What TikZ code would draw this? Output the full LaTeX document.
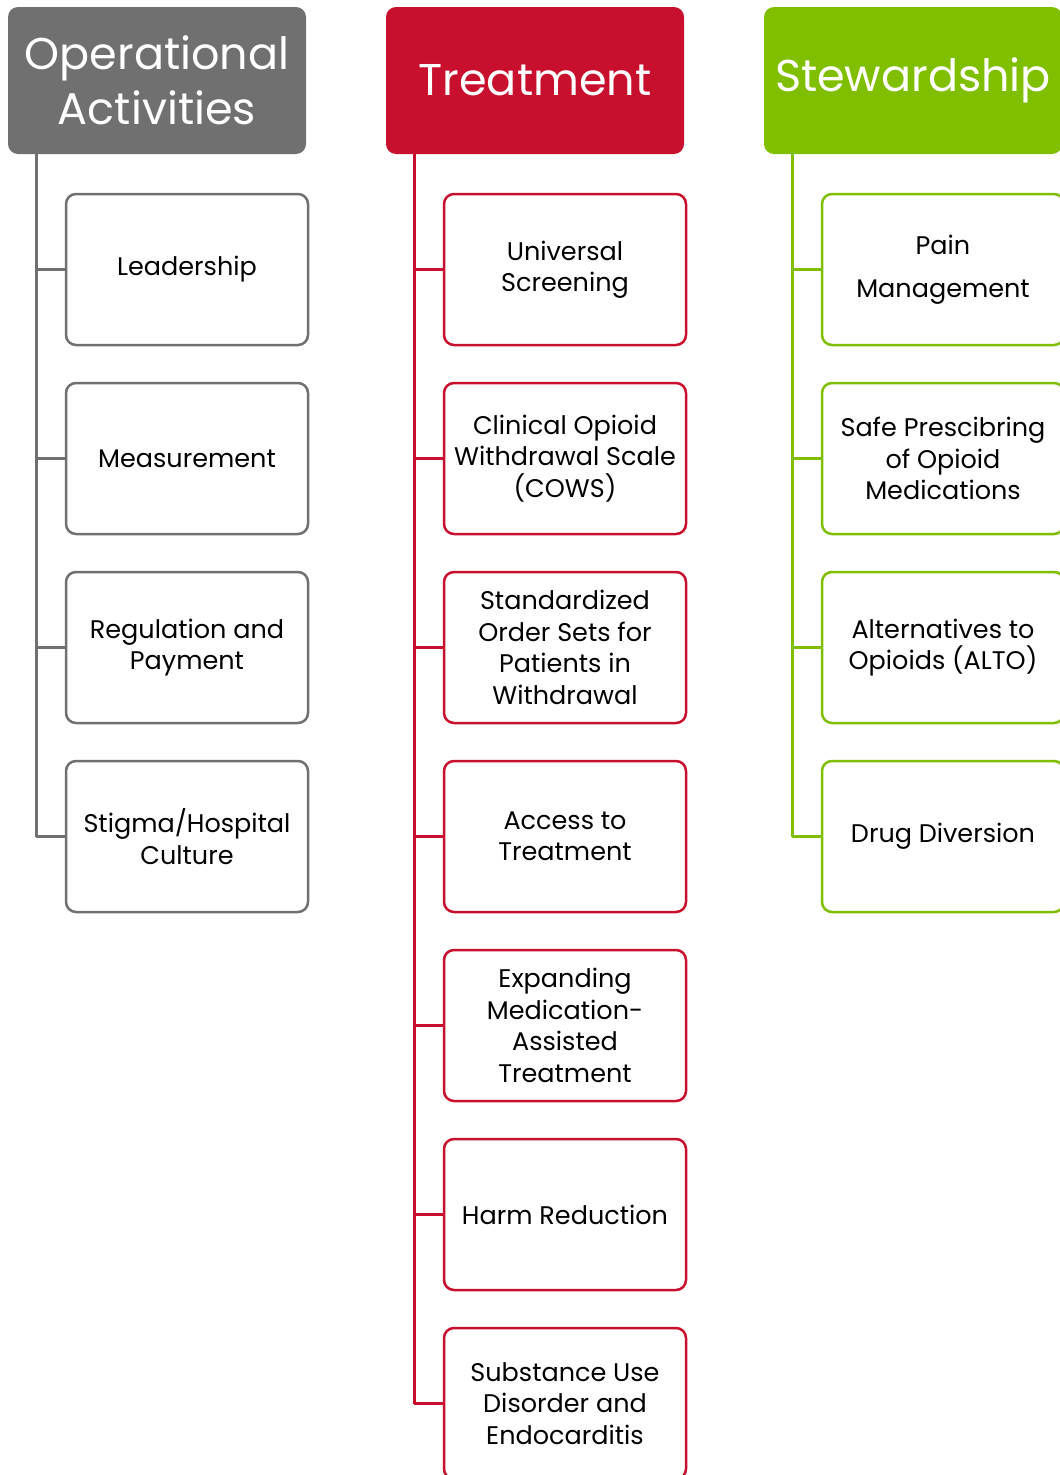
\documentclass[tikz,border=0pt]{standalone}
\usepackage{fontspec}
\setmainfont{Poppins}
\definecolor{opgray}{HTML}{6F706F}
\definecolor{trred}{HTML}{C8102E}
\definecolor{stgreen}{HTML}{80BF00}
\begin{document}
\begin{tikzpicture}[x=1pt, y=-1pt]
% Stili per intestazioni, caselle e linee di collegamento
\tikzset{
  header/.style={rounded corners=10pt, fill=#1, text=white, inner sep=0pt,
    minimum width=298pt, minimum height=147pt, align=center,
    font=\fontsize{44.5}{55}\selectfont},
  item/.style={draw=#1, line width=2.5pt, rounded corners=10pt, fill=white,
    inner sep=0pt, minimum width=242pt, minimum height=151pt, align=center,
    font=\fontsize{25.5}{31.5}\selectfont},
  trunk/.style={draw=#1, line width=3pt}
}

% Area della pagina
\useasboundingbox (0,0) rectangle (1060,1475);

% --- INTESTAZIONI ---
\node[header=opgray]  (opH) at (157,80.5) {Operational\\Activities};
\node[header=trred]   (trH) at (535,80.5) {Treatment};
\node[header=stgreen] (stH) at (913,80.5) {Stewardship};

% Punti di partenza dei tronchi verticali
\coordinate (opT) at (36,154);
\coordinate (trT) at (414,154);
\coordinate (stT) at (792,154);

% --- OPERATIONAL ACTIVITIES ---
\foreach \txt [count=\i] in {Leadership, Measurement, Regulation and\\Payment,
    Stigma/Hospital\\Culture} {
  \node[item=opgray] (op\i) at (187,{269.5+189*(\i-1)}) {\txt};
  \draw[trunk=opgray] (op\i.west) -- (op\i.west -| opT);
}
\draw[trunk=opgray] (opT) -- (op4.west -| opT);

% --- TREATMENT ---
\foreach \txt [count=\i] in {Universal\\Screening,
    Clinical Opioid\\Withdrawal Scale\\(COWS),
    Standardized\\Order Sets for\\Patients in\\Withdrawal,
    Access to\\Treatment,
    Expanding\\Medication-\\Assisted\\Treatment,
    Harm Reduction,
    Substance Use\\Disorder and\\Endocarditis} {
  \node[item=trred] (tr\i) at (565,{269.5+189*(\i-1)}) {\txt};
  \draw[trunk=trred] (tr\i.west) -- (tr\i.west -| trT);
}
\draw[trunk=trred] (trT) -- (tr7.west -| trT);

% --- STEWARDSHIP ---
\foreach \txt [count=\i] in {Pain\\[12pt]Management,
    Safe Prescibring\\of Opioid\\Medications,
    Alternatives to\\Opioids (ALTO),
    Drug Diversion} {
  \node[item=stgreen] (st\i) at (943,{269.5+189*(\i-1)}) {\txt};
  \draw[trunk=stgreen] (st\i.west) -- (st\i.west -| stT);
}
\draw[trunk=stgreen] (stT) -- (st4.west -| stT);

\end{tikzpicture}
\end{document}
